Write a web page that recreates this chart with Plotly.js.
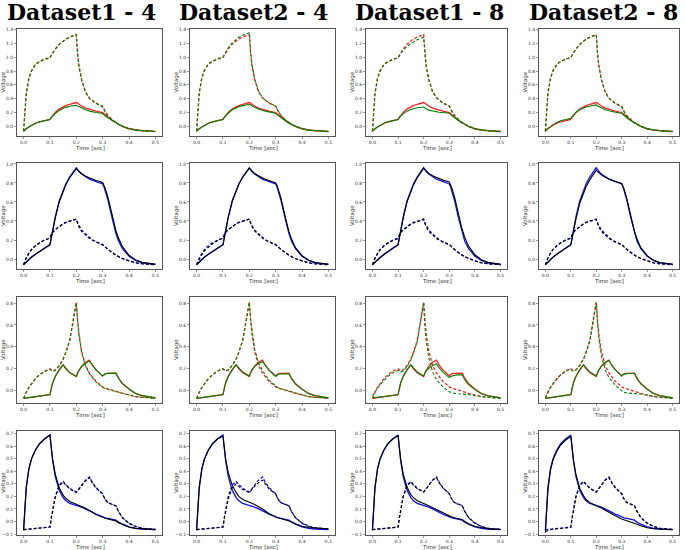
<!DOCTYPE html>
<html><head><meta charset="utf-8">
<script src="https://cdn.plot.ly/plotly-3.0.1.min.js"></script>
<style>html,body{margin:0;padding:0;background:#fff}#c{width:685px;height:550px}</style>
</head><body><div id="c"></div>
<script>
// time samples (s)
const T = [0,0.005,0.01,0.02,0.03,0.045,0.06,0.08,0.1,0.105,0.11,0.12,0.135,0.15,0.16,0.175,0.2,0.205,0.21,0.22,0.235,0.25,0.26,0.275,0.3,0.305,0.31,0.32,0.335,0.35,0.36,0.375,0.4,0.425,0.45,0.5];
const titles = ["Dataset1 - 4","Dataset2 - 4","Dataset1 - 8","Dataset2 - 8"];
const xTicks = [0,0.1,0.2,0.3,0.4,0.5];
const xTickText = ["0.0","0.1","0.2","0.3","0.4","0.5"];
const xLabel = "Time [sec]";
const yLabel = "Voltage";

// Row 1 (red = reference, green = model)
const r1LowerRed = [-0.07,-0.05,-0.035,-0.01,0.015,0.045,0.065,0.085,0.10,0.13,0.16,0.20,0.25,0.285,0.30,0.32,0.345,0.335,0.32,0.295,0.265,0.245,0.235,0.22,0.20,0.18,0.165,0.135,0.09,0.05,0.03,0.0,-0.035,-0.055,-0.065,-0.075];
const r1UpperRed = [-0.07,0.28,0.48,0.70,0.81,0.90,0.94,0.975,0.995,1.03,1.065,1.12,1.19,1.24,1.265,1.295,1.33,1.05,0.88,0.68,0.50,0.41,0.375,0.335,0.29,0.245,0.21,0.155,0.095,0.05,0.03,0.0,-0.035,-0.055,-0.065,-0.075];
const r1c1LowerGreen = [-0.07,-0.05,-0.035,-0.01,0.015,0.045,0.065,0.085,0.10,0.125,0.15,0.185,0.23,0.26,0.275,0.29,0.305,0.295,0.285,0.265,0.24,0.22,0.21,0.20,0.185,0.165,0.15,0.125,0.085,0.05,0.03,0.0,-0.035,-0.055,-0.065,-0.075];
const r1c1UpperGreen = [-0.07,0.27,0.47,0.69,0.80,0.89,0.935,0.97,0.99,1.025,1.06,1.115,1.185,1.235,1.26,1.29,1.325,1.04,0.87,0.67,0.49,0.40,0.37,0.33,0.285,0.24,0.205,0.15,0.09,0.05,0.03,0.0,-0.035,-0.055,-0.065,-0.075];
const r1c2LowerGreen = [-0.07,-0.05,-0.035,-0.01,0.015,0.045,0.065,0.085,0.10,0.13,0.155,0.19,0.24,0.27,0.285,0.30,0.32,0.31,0.295,0.275,0.25,0.23,0.22,0.21,0.19,0.17,0.155,0.125,0.08,0.045,0.025,0.0,-0.035,-0.055,-0.065,-0.075];
const r1c2UpperGreen = [-0.07,0.29,0.49,0.71,0.82,0.905,0.945,0.98,1.0,1.04,1.075,1.135,1.21,1.26,1.29,1.32,1.355,1.07,0.90,0.69,0.51,0.42,0.38,0.34,0.295,0.25,0.215,0.16,0.10,0.055,0.03,0.0,-0.035,-0.055,-0.065,-0.075];
const r1c3LowerGreen = [-0.07,-0.05,-0.035,-0.01,0.015,0.045,0.065,0.085,0.10,0.125,0.15,0.18,0.22,0.245,0.255,0.27,0.28,0.265,0.25,0.235,0.22,0.21,0.205,0.20,0.19,0.17,0.155,0.125,0.085,0.05,0.03,0.0,-0.035,-0.055,-0.065,-0.075];
const r1c3UpperGreen = [-0.07,0.27,0.47,0.69,0.80,0.89,0.935,0.97,0.99,1.02,1.05,1.10,1.16,1.20,1.225,1.255,1.29,1.02,0.86,0.67,0.50,0.42,0.38,0.34,0.30,0.25,0.215,0.16,0.10,0.055,0.03,0.0,-0.035,-0.055,-0.065,-0.075];
const r1c4LowerGreen = [-0.07,-0.045,-0.03,-0.005,0.025,0.055,0.08,0.10,0.115,0.14,0.165,0.20,0.24,0.27,0.28,0.295,0.31,0.295,0.285,0.265,0.24,0.225,0.215,0.205,0.19,0.17,0.155,0.125,0.085,0.05,0.03,0.0,-0.035,-0.055,-0.065,-0.075];
const r1c4UpperGreen = [-0.07,0.27,0.47,0.69,0.80,0.895,0.94,0.975,0.995,1.03,1.06,1.115,1.185,1.235,1.26,1.29,1.325,1.045,0.875,0.675,0.495,0.405,0.37,0.33,0.285,0.24,0.205,0.15,0.09,0.05,0.03,0.0,-0.035,-0.055,-0.065,-0.075];

// Row 2 (blue = reference, black = model)
const r2UpperBlue = [-0.06,-0.045,-0.03,-0.005,0.02,0.05,0.08,0.115,0.15,0.23,0.31,0.44,0.61,0.73,0.79,0.865,0.96,0.94,0.92,0.895,0.865,0.84,0.83,0.815,0.79,0.76,0.72,0.62,0.44,0.27,0.19,0.11,0.03,-0.015,-0.04,-0.055];
const r2LowerBlue = [-0.06,-0.02,0.01,0.06,0.10,0.14,0.17,0.20,0.22,0.255,0.28,0.31,0.345,0.37,0.385,0.40,0.42,0.38,0.35,0.305,0.265,0.225,0.205,0.18,0.155,0.14,0.125,0.10,0.07,0.04,0.025,0.005,-0.02,-0.04,-0.05,-0.06];
const r2c1UpperBlack = [-0.06,-0.045,-0.03,-0.005,0.02,0.05,0.08,0.115,0.15,0.22,0.30,0.43,0.60,0.72,0.78,0.855,0.95,0.935,0.92,0.90,0.87,0.85,0.84,0.825,0.805,0.78,0.74,0.65,0.47,0.30,0.22,0.13,0.04,-0.01,-0.035,-0.055];
const r2c1LowerBlack = [-0.06,-0.02,0.01,0.06,0.10,0.14,0.17,0.20,0.22,0.255,0.28,0.31,0.345,0.37,0.385,0.40,0.42,0.37,0.335,0.29,0.25,0.215,0.20,0.18,0.155,0.14,0.125,0.10,0.07,0.04,0.025,0.005,-0.02,-0.04,-0.05,-0.06];
const r2c2UpperBlack = [-0.06,-0.045,-0.03,-0.005,0.02,0.05,0.08,0.115,0.15,0.225,0.305,0.435,0.605,0.725,0.785,0.86,0.955,0.94,0.925,0.90,0.875,0.85,0.84,0.825,0.80,0.775,0.735,0.64,0.46,0.29,0.21,0.12,0.035,-0.012,-0.037,-0.055];
const r2c2LowerBlack = [-0.06,-0.03,0.0,0.045,0.085,0.125,0.16,0.195,0.22,0.255,0.28,0.31,0.345,0.37,0.385,0.40,0.42,0.375,0.34,0.295,0.255,0.22,0.20,0.18,0.155,0.14,0.125,0.10,0.07,0.04,0.025,0.005,-0.02,-0.04,-0.05,-0.06];
const r2c3UpperBlack = [-0.06,-0.05,-0.035,-0.01,0.015,0.045,0.075,0.11,0.15,0.22,0.30,0.43,0.60,0.72,0.78,0.855,0.955,0.94,0.925,0.90,0.875,0.855,0.845,0.83,0.81,0.785,0.745,0.655,0.48,0.31,0.23,0.135,0.045,-0.008,-0.035,-0.055];
const r2c3LowerBlack = [-0.06,-0.025,0.005,0.055,0.095,0.135,0.165,0.195,0.215,0.25,0.275,0.305,0.34,0.365,0.38,0.395,0.415,0.37,0.335,0.29,0.25,0.215,0.20,0.18,0.155,0.14,0.125,0.10,0.07,0.04,0.025,0.005,-0.02,-0.04,-0.05,-0.06];
const r2c4UpperBlack = [-0.06,-0.045,-0.03,-0.005,0.02,0.05,0.08,0.115,0.15,0.22,0.295,0.42,0.585,0.70,0.76,0.835,0.935,0.92,0.905,0.885,0.86,0.84,0.83,0.815,0.795,0.77,0.73,0.635,0.46,0.29,0.21,0.12,0.035,-0.012,-0.037,-0.055];
const r2c4LowerBlack = [-0.06,-0.02,0.01,0.06,0.10,0.14,0.17,0.20,0.22,0.255,0.28,0.31,0.345,0.37,0.385,0.40,0.415,0.37,0.335,0.29,0.25,0.215,0.20,0.18,0.155,0.14,0.125,0.10,0.07,0.04,0.025,0.005,-0.02,-0.04,-0.05,-0.06];

// Row 3 (red = reference, green = model)
const r3SolidRed = [-0.07,-0.068,-0.066,-0.062,-0.058,-0.053,-0.048,-0.043,-0.035,0.02,0.07,0.13,0.19,0.235,0.20,0.165,0.13,0.165,0.19,0.225,0.26,0.28,0.235,0.19,0.135,0.15,0.155,0.158,0.16,0.16,0.115,0.065,0.015,-0.025,-0.045,-0.065];
const r3DashRed = [-0.07,-0.04,-0.015,0.03,0.065,0.11,0.145,0.18,0.20,0.185,0.18,0.19,0.23,0.29,0.35,0.46,0.81,0.64,0.52,0.36,0.23,0.16,0.13,0.085,0.035,0.028,0.022,0.016,0.007,-0.003,-0.012,-0.025,-0.04,-0.053,-0.06,-0.068];
const r3c1SolidGreen = [-0.07,-0.068,-0.066,-0.062,-0.058,-0.053,-0.048,-0.043,-0.035,0.02,0.07,0.13,0.19,0.235,0.205,0.165,0.13,0.16,0.185,0.22,0.25,0.27,0.235,0.19,0.135,0.15,0.155,0.158,0.16,0.16,0.115,0.065,0.015,-0.025,-0.045,-0.065];
const r3c1DashGreen = [-0.07,-0.04,-0.015,0.03,0.065,0.11,0.145,0.175,0.195,0.18,0.175,0.185,0.225,0.285,0.345,0.455,0.80,0.63,0.51,0.35,0.225,0.155,0.125,0.08,0.03,0.024,0.018,0.012,0.003,-0.006,-0.015,-0.027,-0.042,-0.054,-0.06,-0.068];
const r3c2SolidGreen = [-0.07,-0.068,-0.066,-0.062,-0.058,-0.053,-0.048,-0.043,-0.035,0.02,0.07,0.13,0.19,0.235,0.205,0.17,0.135,0.165,0.19,0.22,0.25,0.265,0.23,0.185,0.13,0.145,0.15,0.153,0.155,0.155,0.11,0.06,0.012,-0.027,-0.046,-0.065];
const r3c2DashGreen = [-0.07,-0.04,-0.015,0.03,0.065,0.11,0.145,0.18,0.20,0.185,0.18,0.19,0.23,0.29,0.35,0.46,0.805,0.65,0.54,0.38,0.25,0.18,0.145,0.095,0.04,0.032,0.025,0.018,0.008,-0.002,-0.012,-0.025,-0.04,-0.053,-0.06,-0.068];
const r3c3SolidGreen = [-0.065,-0.064,-0.062,-0.059,-0.056,-0.052,-0.048,-0.043,-0.035,0.02,0.07,0.13,0.19,0.235,0.205,0.17,0.135,0.16,0.18,0.205,0.23,0.245,0.21,0.17,0.12,0.13,0.135,0.14,0.145,0.145,0.10,0.055,0.01,-0.028,-0.046,-0.065];
const r3c3DashGreen = [-0.05,-0.03,-0.01,0.025,0.055,0.095,0.13,0.165,0.185,0.175,0.17,0.18,0.22,0.28,0.34,0.45,0.80,0.58,0.45,0.30,0.17,0.10,0.07,0.035,-0.01,-0.015,-0.02,-0.024,-0.028,-0.03,-0.032,-0.035,-0.045,-0.055,-0.06,-0.068];
const r3c4SolidGreen = [-0.07,-0.068,-0.066,-0.062,-0.058,-0.053,-0.048,-0.043,-0.035,0.02,0.07,0.13,0.19,0.235,0.205,0.17,0.135,0.165,0.19,0.225,0.255,0.275,0.235,0.19,0.135,0.148,0.152,0.155,0.157,0.157,0.112,0.062,0.013,-0.026,-0.046,-0.065];
const r3c4DashGreen = [-0.06,-0.035,-0.012,0.03,0.065,0.11,0.145,0.18,0.20,0.185,0.18,0.19,0.23,0.29,0.35,0.46,0.805,0.61,0.48,0.32,0.19,0.12,0.09,0.05,0.0,-0.01,-0.015,-0.02,-0.022,-0.022,-0.025,-0.03,-0.042,-0.054,-0.06,-0.068];

// Row 4 (blue = reference, black = model)
const r4SolidBlue = [-0.07,0.15,0.27,0.42,0.50,0.57,0.62,0.66,0.69,0.59,0.49,0.36,0.25,0.19,0.165,0.145,0.13,0.128,0.125,0.115,0.10,0.088,0.075,0.058,0.035,0.032,0.029,0.024,0.016,0.01,-0.005,-0.022,-0.043,-0.055,-0.06,-0.065];
const r4DashBlue = [-0.065,-0.064,-0.063,-0.061,-0.059,-0.056,-0.053,-0.049,-0.045,0.03,0.10,0.20,0.29,0.32,0.295,0.265,0.235,0.25,0.265,0.295,0.33,0.355,0.315,0.27,0.22,0.195,0.175,0.15,0.135,0.125,0.08,0.03,-0.015,-0.04,-0.055,-0.063];
const r4c1SolidBlack = [-0.07,0.15,0.27,0.42,0.50,0.57,0.62,0.66,0.69,0.59,0.50,0.38,0.27,0.21,0.185,0.16,0.14,0.135,0.13,0.12,0.105,0.09,0.075,0.055,0.03,0.028,0.025,0.02,0.012,0.005,-0.01,-0.025,-0.045,-0.055,-0.06,-0.065];
const r4c1DashBlack = [-0.065,-0.064,-0.063,-0.061,-0.059,-0.056,-0.053,-0.049,-0.045,0.02,0.09,0.19,0.28,0.315,0.29,0.26,0.23,0.245,0.26,0.29,0.325,0.35,0.31,0.265,0.22,0.195,0.175,0.15,0.135,0.125,0.08,0.03,-0.015,-0.04,-0.055,-0.063];
const r4c2SolidBlack = [-0.065,0.15,0.27,0.42,0.50,0.57,0.62,0.66,0.68,0.59,0.50,0.39,0.29,0.23,0.2,0.175,0.158,0.152,0.145,0.135,0.12,0.10,0.085,0.062,0.035,0.032,0.029,0.024,0.016,0.01,-0.002,-0.018,-0.038,-0.048,-0.052,-0.058];
const r4c2DashBlack = [-0.065,-0.064,-0.063,-0.061,-0.059,-0.056,-0.053,-0.049,-0.045,0.02,0.085,0.18,0.27,0.30,0.28,0.255,0.23,0.24,0.255,0.28,0.31,0.33,0.30,0.26,0.22,0.195,0.175,0.15,0.135,0.125,0.08,0.03,-0.012,-0.036,-0.05,-0.06];
const r4c3SolidBlack = [-0.07,0.15,0.27,0.42,0.50,0.57,0.62,0.66,0.685,0.59,0.50,0.38,0.275,0.215,0.19,0.165,0.145,0.14,0.135,0.125,0.11,0.095,0.082,0.065,0.042,0.039,0.036,0.03,0.022,0.015,0.0,-0.018,-0.04,-0.052,-0.058,-0.064];
const r4c3DashBlack = [-0.065,-0.064,-0.063,-0.061,-0.059,-0.056,-0.053,-0.049,-0.045,0.025,0.095,0.195,0.285,0.315,0.29,0.26,0.235,0.25,0.265,0.295,0.33,0.35,0.31,0.268,0.222,0.197,0.177,0.152,0.137,0.127,0.082,0.032,-0.013,-0.04,-0.055,-0.063];
const r4c4SolidBlack = [-0.09,0.13,0.25,0.41,0.49,0.56,0.61,0.65,0.68,0.585,0.495,0.375,0.265,0.205,0.175,0.15,0.13,0.125,0.12,0.108,0.09,0.072,0.06,0.045,0.02,0.017,0.013,0.007,-0.003,-0.012,-0.022,-0.035,-0.05,-0.058,-0.062,-0.066];
const r4c4DashBlack = [-0.08,-0.075,-0.07,-0.066,-0.062,-0.058,-0.055,-0.051,-0.047,0.025,0.095,0.195,0.285,0.32,0.295,0.265,0.235,0.25,0.265,0.295,0.33,0.35,0.31,0.268,0.222,0.197,0.177,0.152,0.137,0.127,0.082,0.032,-0.013,-0.04,-0.055,-0.063];

const rows = [
  {ref:'#ff2020', mod:'#008000', refS:r1LowerRed, refD:r1UpperRed,
   modS:[r1c1LowerGreen,r1c2LowerGreen,r1c3LowerGreen,r1c4LowerGreen],
   modD:[r1c1UpperGreen,r1c2UpperGreen,r1c3UpperGreen,r1c4UpperGreen], yr:[-0.14,1.41], dt:0.2},
  {ref:'#1010ff', mod:'#000000', refS:r2UpperBlue, refD:r2LowerBlue,
   modS:[r2c1UpperBlack,r2c2UpperBlack,r2c3UpperBlack,r2c4UpperBlack],
   modD:[r2c1LowerBlack,r2c2LowerBlack,r2c3LowerBlack,r2c4LowerBlack], yr:[-0.105,1.01], dt:0.2},
  {ref:'#ff2020', mod:'#008000', refS:r3SolidRed, refD:r3DashRed,
   modS:[r3c1SolidGreen,r3c2SolidGreen,r3c3SolidGreen,r3c4SolidGreen],
   modD:[r3c1DashGreen,r3c2DashGreen,r3c3DashGreen,r3c4DashGreen], yr:[-0.112,0.855], dt:0.2},
  {ref:'#1010ff', mod:'#000000', refS:r4SolidBlue, refD:r4DashBlue,
   modS:[r4c1SolidBlack,r4c2SolidBlack,r4c3SolidBlack,r4c4SolidBlack],
   modD:[r4c1DashBlack,r4c2DashBlack,r4c3DashBlack,r4c4DashBlack], yr:[-0.108,0.722], dt:0.1}
];

const W = 685, H = 550;
const colPx = [[17,162],[190,335],[366,507],[539,679]];
const rowPx = [[29,136],[163,269],[297,403],[431,535]];
const traces = [];
const layout = {width:W, height:H, margin:{l:0,r:0,t:0,b:0}, showlegend:false,
  paper_bgcolor:'#fff', plot_bgcolor:'#fff', annotations:[],
  font:{family:'DejaVu Sans', color:'#333'}};
const dashPat = '3px,2px';
const labFont = {family:'DejaVu Sans', size:5.5, color:'#333'};
rows.forEach((R, r) => {
  for (let c = 0; c < 4; c++) {
    const k = r*4 + c + 1;
    const xa = 'x' + (k===1?'':k), ya = 'y' + (k===1?'':k);
    const add = (y, color, dash, w) => traces.push({x:T, y:y, xaxis:xa, yaxis:ya, type:'scatter', mode:'lines',
      line:{color:color, width:w, dash:dash?dashPat:'solid'}, hoverinfo:'skip'});
    add(R.refS, R.ref, false, 1.3);
    add(R.refD, R.ref, true, 1.3);
    add(R.modS[c], R.mod, false, 1.1);
    add(R.modD[c], R.mod, true, 1.1);
    const xd = [colPx[c][0]/W, colPx[c][1]/W];
    const yd = [1 - rowPx[r][1]/H, 1 - rowPx[r][0]/H];
    const common = {showline:true, mirror:true, linecolor:'#555', linewidth:1, showgrid:false, zeroline:false,
      ticks:'outside', ticklen:2, tickwidth:0.6, tickcolor:'#555', tickfont:{size:4.5, color:'#333'}};
    layout['xaxis'+(k===1?'':k)] = Object.assign({}, common, {domain:xd, anchor:ya, range:[-0.025,0.525],
      tickmode:'array', tickvals:xTicks, ticktext:xTickText});
    layout['yaxis'+(k===1?'':k)] = Object.assign({}, common, {domain:yd, anchor:xa, range:R.yr,
      dtick:R.dt, tick0:0, tickformat:'.1f'});
    layout.annotations.push({text:xLabel, xref:'paper', yref:'paper',
      x:(colPx[c][0]+colPx[c][1])/2/W, y:1-(rowPx[r][1]+12)/H, xanchor:'center', yanchor:'middle',
      showarrow:false, font:labFont});
    layout.annotations.push({text:yLabel, xref:'paper', yref:'paper', textangle:-90,
      x:(colPx[c][0]-14)/W, y:1-(rowPx[r][0]+rowPx[r][1])/2/H, xanchor:'center', yanchor:'middle',
      showarrow:false, font:labFont});
  }
});
const titleX = [81, 253, 429, 603];
titles.forEach((t, i) => layout.annotations.push({text:'<b>'+t+'</b>', xref:'paper', yref:'paper',
  x:titleX[i]/W, y:1 - 12/H, xanchor:'center', yanchor:'middle', showarrow:false,
  font:{family:'DejaVu Serif', size:22, color:'#000'}}));
Plotly.newPlot('c', traces, layout, {staticPlot:true});
</script></body></html>
